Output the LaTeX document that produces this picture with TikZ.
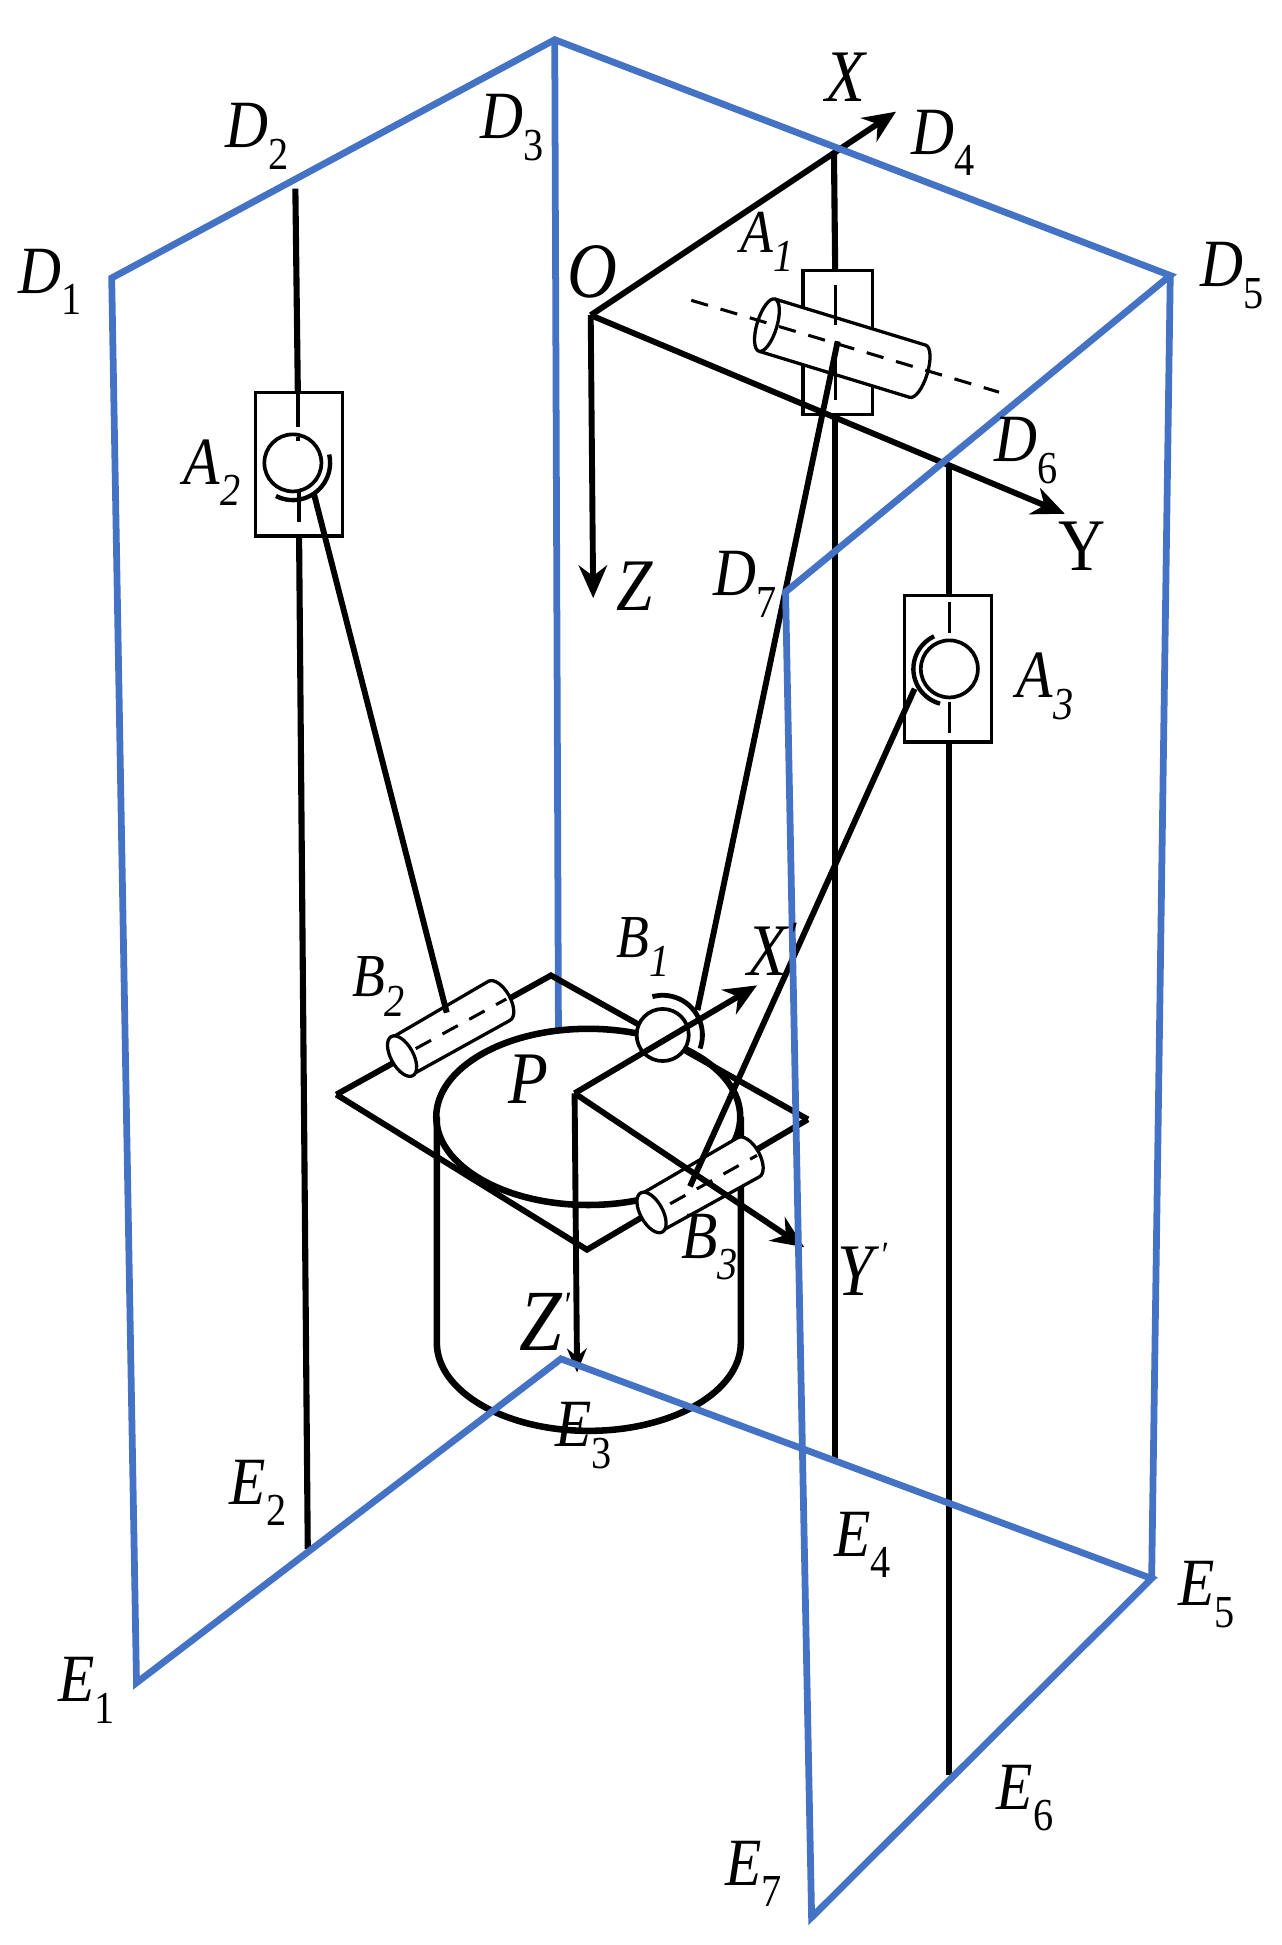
\documentclass[tikz,border=0pt]{standalone}
\usepackage{fontspec}
\setmainfont[FakeStretch=0.88]{Liberation Serif}
\usetikzlibrary{arrows.meta}
\definecolor{frameblue}{HTML}{4472C4}
\newcommand\Lsub[2]{\textit{#1}\raisebox{-0.32em}{\fontsize{21}{21}\selectfont #2}}
\newcommand\Isub[2]{\textit{#1}\raisebox{-0.32em}{\fontsize{21}{21}\selectfont\itshape #2}}
\newcommand\Lprime[1]{\textit{#1}\raisebox{0.38em}{\fontsize{17}{17}\selectfont\itshape\char"2032}}
\newcommand\cylbody[6]{%
  \begin{scope}[shift={#1},rotate=#2]
    \draw[thinl,fill=white] (0,#4) -- (#3,#4)
      arc[start angle=-90,end angle=90,x radius=#5,y radius=#6] -- (0,-#4);
    \draw[thinl,fill=white] (0,0) ellipse [x radius=#5,y radius=#6];
  \end{scope}}
\tikzset{
  x=0.02cm,y=-0.02cm,
  frame/.style={draw=frameblue,line width=3.1pt,line join=miter},
  thick black/.style={draw=black,line width=2.7pt},
  rail/.style={draw=black,line width=2.8pt},
  thinl/.style={draw=black,line width=1.5pt},
  rod/.style={draw=black,line width=2.7pt},
  axisline/.style={draw=black,line width=2.7pt,-{Stealth[length=15pt,width=13pt]}},
  dashedaxis/.style={draw=black,line width=1.4pt,dash pattern=on 8pt off 6pt},
  lab/.style={font=\fontsize{31}{31}\selectfont,inner sep=0pt},
  labs/.style={font=\fontsize{28}{28}\selectfont,inner sep=0pt},
}
\begin{document}
\begin{tikzpicture}
\useasboundingbox (0,0) rectangle (1033,1567.3);
\fill[white] (0,0) rectangle (1033,1567.3);
% frame points
\coordinate (D1) at (90,224);
\coordinate (D3) at (447,32);
\coordinate (D5) at (943,222);
\coordinate (D7) at (633,477);
\coordinate (E1) at (110,1356);
\coordinate (E3) at (452,1095);
\coordinate (E5) at (928,1272);
\coordinate (E7) at (654,1545);
\coordinate (D3b) at (450,832);
% coordinate frames
\coordinate (O) at (476,254);
\coordinate (Xend) at (722,90);
\coordinate (Yend) at (858,414);
\coordinate (Zend) at (478,482);
\coordinate (R1t) at (672,122);
\coordinate (R1a) at (673,218);
\coordinate (R1b) at (673,334);
\coordinate (R1e) at (673,1175);
\coordinate (R2t) at (238,152);
\coordinate (R2a) at (240,316);
\coordinate (R2b) at (241,432);
\coordinate (R2e) at (248,1248);
\coordinate (R3t) at (765,375);
\coordinate (R3a) at (765,480);
\coordinate (R3b) at (765,598);
\coordinate (R3e) at (765,1430);
\coordinate (A2c) at (236,373);
\coordinate (A3c) at (765,539);
\coordinate (B1c) at (534,834);
\coordinate (Pc) at (463,881);
\coordinate (PX) at (610,794);
\coordinate (PY) at (648,1005);
\coordinate (PZ) at (465,1106);
\coordinate (Q1) at (271,882);
\coordinate (Q2) at (444,786);
\coordinate (Q3) at (651,902);
\coordinate (Q4) at (473,1007);
\coordinate (CylTop) at (474,900);
\coordinate (CylL) at (352,900);
\coordinate (CylR) at (597,900);
\coordinate (CylLb) at (352,1082);
\coordinate (CylRb) at (597,1082);
% blue back lines
\draw[frame] (D3) -- (D3b);
% cylinder
\draw[thick black,line width=3pt] (CylTop) ellipse [x radius=2.45cm,y radius=1.42cm];
\draw[thick black,line width=3pt] (CylL) -- (CylLb) arc[start angle=180,end angle=360,x radius=2.45cm,y radius=1.42cm] -- (CylR);
% plate
\draw[thick black,line join=miter] (Q1) -- (Q2) -- (Q3);
\draw[thick black,line join=miter] (Q1) -- (Q4) -- (Q3);
% rails
\draw[rail] (R1t) -- (R1a);
\draw[rail] (R1b) -- (R1e);
\draw[rail] (R2t) -- (R2a);
\draw[rail] (R2b) -- (R2e);
\draw[rail] (R3t) -- (R3a);
\draw[rail] (R3b) -- (R3e);
% sliders
\draw[thinl] (647,218) rectangle (703,334);
\draw[thinl] (206,316) rectangle (276,432);
\draw[thinl] (729,480) rectangle (799,598);
\draw[thinl,line width=2pt] (240,316) -- (240,344) (240,352) -- (240,355);
\draw[thinl,line width=1.6pt] (241,395) -- (241,421);
\draw[thinl] (765,485) -- (765,510) (765,566) -- (765,591);
% A1 joint
\draw[thinl] (673,230) -- (673,262);
\cylbody{(618,262)}{-17}{127}{22}{.16cm}{.44cm}
\draw[dashedaxis] (557,242) -- (805,316);
\draw[thinl] (673,255) -- (673,262) (673,290) -- (673,322);
% A2 joint
\draw[thinl,line width=1.7pt] (A2c) circle [radius=.46cm];
\draw[thinl,line width=2pt] ([shift={(243:.6cm)}]A2c) arc[start angle=243,end angle=373,radius=.6cm];
% A3 joint
\draw[thinl,line width=1.7pt] (A3c) circle [radius=.46cm];
\draw[thinl,line width=2pt] ([shift={(115:.58cm)}]A3c) arc[start angle=115,end angle=255,radius=.58cm];
% B2 joint
\cylbody{(324,851)}{29}{90}{17}{.18cm}{.36cm}
\draw[dashedaxis] (335,845) -- (408,805);
% B3 joint
\cylbody{(525,977)}{29}{90}{17}{.18cm}{.36cm}
\draw[dashedaxis] (540,970) -- (610,931);
% B1 joint
\draw[thinl,line width=1.7pt,fill=white] (B1c) circle [radius=.42cm];
\draw[thinl,line width=2.2pt] ([shift={(105:.64cm)}]B1c) arc[start angle=105,end angle=-20,radius=.64cm];
% rods
\draw[rod] (253,398) -- (360,816);
\draw[rod] (675,275) -- (562,814);
\draw[rod] (737,555) -- (556,956);
% axes
\draw[axisline] (O) -- (Xend);
\draw[axisline] (O) -- (Yend);
\draw[axisline] (O) -- (Zend);
\draw[axisline] (Pc) -- (PX);
\draw[axisline] (Pc) -- (PY);
\draw[axisline,-{Stealth[length=11pt,width=9pt]}] (Pc) -- (PZ);
% blue frame
\draw[frame] (D1) -- (D3) -- (D5) -- (D7) -- (E7) -- (E5) -- (E3) -- (E1) -- cycle;
\draw[frame] (D5) -- (E5);
% labels
\node[lab] (lD1) at (40,227) {\Lsub{D}{1}};
\node[lab] (lD2) at (207,110) {\Lsub{D}{2}};
\node[lab] (lD3) at (413,103) {\Lsub{D}{3}};
\node[lab] (lD4) at (760,115) {\Lsub{D}{4}};
\node[lab] (lD5) at (993,222) {\Lsub{D}{5}};
\node[lab] (lD6) at (827,363) {\Lsub{D}{6}};
\node[lab] (lD7) at (600,471) {\Lsub{D}{7}};
\node[lab,font=\fontsize{34}{34}\selectfont] (lX) at (682,62) {\textit{X}};
\node[lab,font=\fontsize{36}{36}\selectfont] (lO) at (477,219) {\textit{O}};
\node[labs] (lA1) at (618,195) {\Isub{A}{1}};
\node[lab,font=\fontsize{34}{34}\selectfont] (lZ) at (512,472) {\textit{Z}};
\node[lab,font=\fontsize{34}{34}\selectfont] (lY) at (872,440) {Y};
\node[lab] (lA2) at (171,381) {\Isub{A}{2}};
\node[lab] (lA3) at (842,553) {\Isub{A}{3}};
\node[labs] (lB1) at (518,763) {\Isub{B}{1}};
\node[labs] (lB2) at (305,795) {\Isub{B}{2}};
\node[lab] (lB3) at (572,1005) {\Isub{B}{3}};
\node[lab,font=\fontsize{34}{34}\selectfont] (lXp) at (622,765) {\Lprime{X}};
\node[lab,font=\fontsize{34}{34}\selectfont] (lP) at (426,870) {\textit{P}};
\node[lab,font=\fontsize{34}{34}\selectfont] (lYp) at (695,1023) {\Lprime{Y}};
\node[lab,font=\fontsize{40}{40}\selectfont] (lZp) at (439,1065) {\Lprime{Z}};
\node[lab] (lE1) at (70,1362) {\Lsub{E}{1}};
\node[lab] (lE2) at (208,1203) {\Lsub{E}{2}};
\node[lab] (lE3) at (470,1157) {\Lsub{E}{3}};
\node[lab] (lE4) at (695,1245) {\Lsub{E}{4}};
\node[lab] (lE5) at (972,1285) {\Lsub{E}{5}};
\node[lab] (lE6) at (826,1449) {\Lsub{E}{6}};
\node[lab] (lE7) at (607,1510) {\Lsub{E}{7}};
\end{tikzpicture}
\end{document}
